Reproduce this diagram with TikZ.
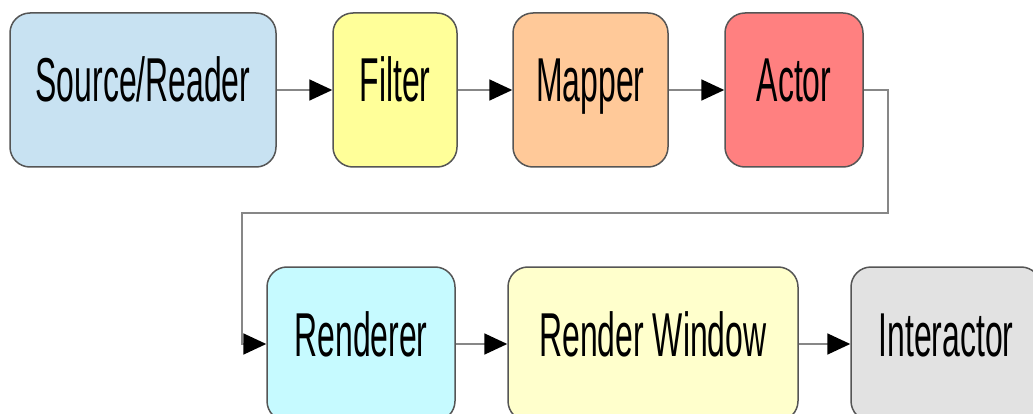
\documentclass[tikz,border=0pt]{standalone}
\usepackage{fontspec}
\usetikzlibrary{arrows.meta}
\newfontfamily\boxfont[FakeStretch=0.515]{Liberation Sans}

\definecolor{srcfill}{RGB}{200,226,242}
\definecolor{fltfill}{RGB}{255,255,153}
\definecolor{mapfill}{RGB}{255,201,153}
\definecolor{actfill}{RGB}{255,128,128}
\definecolor{renfill}{RGB}{198,250,255}
\definecolor{winfill}{RGB}{255,255,204}
\definecolor{intfill}{RGB}{226,226,226}
\definecolor{boxline}{RGB}{85,85,85}
\definecolor{wireline}{RGB}{135,135,135}

\tikzset{
  stage/.style={draw=boxline, line width=1.5pt, rounded corners=20pt,
    minimum height=154pt, inner sep=0pt, text height=45pt, text depth=21pt,
    font=\boxfont\fontsize{62}{70}\selectfont, text=black},
  wire/.style={draw=wireline, line width=1.8pt,
    -{Triangle[length=23pt,width=21pt,color=black]}}
}

\begin{document}
\begin{tikzpicture}[x=1pt,y=-1pt]
\useasboundingbox (0,0) rectangle (1033,414);

% pipeline, first row
\node[stage, fill=srcfill, minimum width=266pt] (src) at (143,90) {Source/Reader};
\node[stage, fill=fltfill, minimum width=124pt] (flt) at (395,90) {Filter};
\node[stage, fill=mapfill, minimum width=155pt] (map) at (590.5,90) {Mapper};
\node[stage, fill=actfill, minimum width=138pt] (act) at (794,90) {Actor};

% pipeline, second row
\node[stage, fill=renfill, minimum width=188pt] (ren) at (361,344) {Renderer};
\node[stage, fill=winfill, minimum width=290pt] (win) at (653,344) {Render Window};
\node[stage, fill=intfill, minimum width=190pt] (itr) at (946,344) {Interactor};

% turn-around route from the first row to the second
\coordinate (r1) at (888,90);
\coordinate (r2) at (888,213);
\coordinate (r3) at (242,213);
\coordinate (r4) at (242,344);

\draw[wire] (src) -- (flt);
\draw[wire] (flt) -- (map);
\draw[wire] (map) -- (act);
\draw[wire] (act.east) -- (r1) -- (r2) -- (r3) -- (r4) -- (ren.west);
\draw[wire] (ren) -- (win);
\draw[wire] (win) -- (itr);
\end{tikzpicture}
\end{document}
